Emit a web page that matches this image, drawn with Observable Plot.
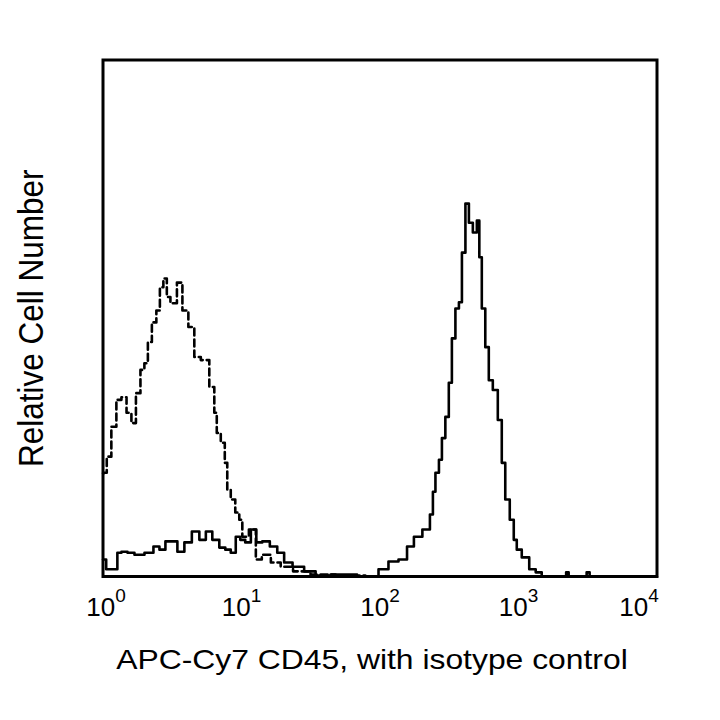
<!DOCTYPE html>
<html>
<head>
<meta charset="utf-8">
<script src="https://cdn.jsdelivr.net/npm/d3@7"></script>
<script src="https://cdn.jsdelivr.net/npm/@observablehq/plot@0.6"></script>
<style>
  html, body { margin: 0; padding: 0; background: #fff; }
  #chart { width: 720px; height: 720px; }
</style>
</head>
<body>
<div id="chart"></div>
<script>
// Isotype control histogram (dashed)
const isotypeX = [1.0, 1.03, 1.10, 1.20, 1.30, 1.42, 1.54, 1.67, 1.79, 1.94, 2.04, 2.18, 2.33, 2.53, 2.62, 2.84, 2.94, 3.20, 3.65, 3.84, 4.45, 4.68, 5.52, 6.21, 6.52, 6.74, 7.45, 7.70, 8.09, 8.65, 9.40, 9.88, 10.4, 12.3, 13.1, 15.0, 17.7, 20.8, 26.7, 37.2, 61.3, 100];
const isotypeY = [20, 20.1, 23.2, 29.0, 34.2, 34.7, 31.7, 29.7, 35.5, 40.0, 41.3, 45.4, 49.2, 51.5, 56.0, 57.7, 54.1, 52.9, 56.9, 51.5, 48.3, 42.5, 41.9, 36.7, 31.7, 27.8, 25.9, 22.0, 16.8, 14.9, 12.4, 11.0, 7.7, 9.1, 3.3, 4.2, 2.7, 1.9, 1.0, 0.4, 0.2, 0];

// APC-Cy7 CD45 histogram (solid)
const cd45X = [1.00, 1.02, 1.09, 1.24, 1.30, 1.42, 1.59, 1.79, 2.22, 2.41, 2.71, 2.94, 3.25, 3.65, 4.10, 4.68, 5.26, 5.81, 6.52, 7.33, 7.96, 8.79, 9.40, 10.2, 11.1, 12.3, 13.3, 15.0, 17.1, 19.2, 21.5, 25.4, 31.6, 37.2, 51.9, 89.8, 106, 125, 148, 166, 186, 220, 239, 243, 260, 273, 287, 306, 322, 339, 362, 381, 400, 428, 449, 488, 513, 530, 557, 595, 626, 680, 739, 776, 830, 901, 948, 996, 1119, 1277, 1387, 1560, 2173, 2245, 2360, 3027, 3184, 3342, 10000];
const cd45Y = [3.3, 3.3, 1.4, 1.4, 4.6, 4.8, 4.6, 4.2, 4.6, 5.8, 5.2, 6.8, 6.8, 4.8, 6.6, 8.7, 7.1, 8.7, 7.1, 5.6, 5.2, 4.6, 7.7, 7.1, 6.6, 9.1, 6.6, 6.8, 5.8, 4.6, 2.7, 1.9, 1.0, 0.2, 0.4, 0, 1.4, 2.9, 3.3, 5.8, 7.7, 9.1, 12.0, 16.4, 20.1, 22.6, 26.8, 30.9, 37.5, 46.1, 51.9, 53.1, 62.7, 72.2, 68.5, 66.6, 68.9, 61.8, 51.9, 44.4, 38.0, 36.1, 30.3, 22.0, 14.9, 11.0, 7.1, 5.2, 3.7, 1.4, 0.8, 0, 0, 0.8, 0, 0, 0.8, 0, 0];

const tickValues = [1, 10, 100, 1000, 10000];
const tickExponents = ["0", "1", "2", "3", "4"];
const xLabel = "APC-Cy7 CD45, with isotype control";
const yLabel = "Relative Cell Number";

const isotype = isotypeX.map((x, i) => ({x, y: isotypeY[i]}));
const cd45 = cd45X.map((x, i) => ({x, y: cd45Y[i]}));

const chart = Plot.plot({
  width: 720,
  height: 720,
  marginLeft: 102.5,
  marginRight: 63.5,
  marginTop: 59.5,
  marginBottom: 144,
  style: {fontFamily: "'Liberation Sans', Arial, Helvetica, sans-serif", background: "#fff", color: "#000"},
  x: {type: "log", domain: [1, 10000]},
  y: {domain: [0, 100], axis: null},
  marks: [
    Plot.line(isotype, {x: "x", y: "y", curve: "step", stroke: "#000", strokeWidth: 2.6, strokeDasharray: "7,4"}),
    Plot.line(cd45, {x: "x", y: "y", curve: "step", stroke: "#000", strokeWidth: 2.6}),
    Plot.frame({stroke: "#000", strokeWidth: 3}),
    Plot.axisX({
      ticks: tickValues,
      tickSize: 0,
      tickPadding: 21,
      fontSize: 26,
      tickFormat: (d) => "10^" + tickExponents[tickValues.indexOf(d)],
      label: null
    }),
    Plot.text([xLabel], {
      text: (d) => d,
      frameAnchor: "bottom",
      lineAnchor: "top",
      dy: 73,
      dx: -8,
      fontSize: 27,
      fill: "#000"
    }),
    Plot.text([yLabel], {
      text: (d) => d,
      frameAnchor: "left",
      textAnchor: "middle",
      lineAnchor: "middle",
      rotate: -90,
      dx: -71.5,
      fontSize: 31.5,
      fill: "#000"
    })
  ]
});

function appendScale(t, s) {
  const tr = t.getAttribute("transform");
  if (tr) {
    t.setAttribute("transform", tr + " " + s);
  } else {
    const x = +t.getAttribute("x") || 0, y = +t.getAttribute("y") || 0;
    t.removeAttribute("x"); t.removeAttribute("y");
    t.setAttribute("transform", `translate(${x},${y}) ${s}`);
  }
}

// Stretch labels to match the reference glyph proportions
chart.querySelectorAll("text").forEach((t) => {
  if (t.textContent === xLabel) appendScale(t, "scale(1.18,1)");
  if (t.textContent === yLabel) appendScale(t, "scale(1,1.1)");
});

// Turn "10^k" tick labels into superscripts
const tickTexts = chart.querySelectorAll('[aria-label="x-axis tick label"] text');
tickTexts.forEach((t, i) => {
  const parts = t.textContent.split("^");
  if (parts.length !== 2) return;
  t.setAttribute("font-size", "26");
  t.style.fontSize = "26px";
  t.textContent = "";
  t.appendChild(document.createTextNode(parts[0]));
  const sup = document.createElementNS("http://www.w3.org/2000/svg", "tspan");
  sup.setAttribute("dy", "-13.5");
  sup.setAttribute("font-size", "19");
  sup.style.fontSize = "19px";
  sup.textContent = parts[1];
  t.appendChild(sup);
  if (i === tickTexts.length - 1) t.setAttribute("dx", "-18");
  if (i === 0) t.setAttribute("dx", "3");
});

document.getElementById("chart").appendChild(chart);
</script>
</body>
</html>
